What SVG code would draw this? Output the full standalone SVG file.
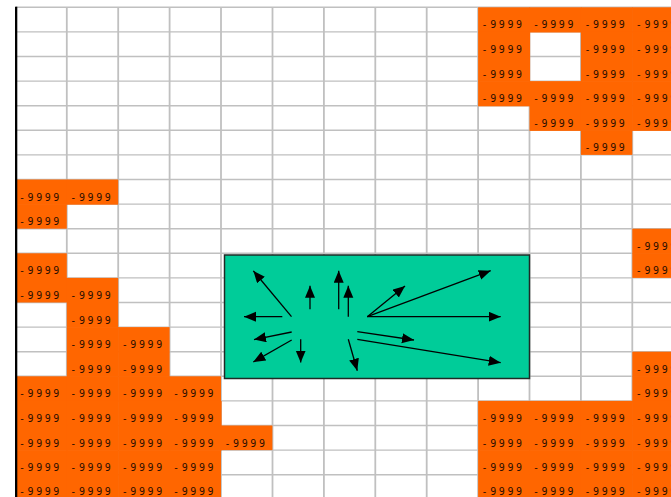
<svg xmlns="http://www.w3.org/2000/svg" width="671" height="497" viewBox="0 0 671 497">
<style>
.g{stroke:#c0c0c0;fill:none}
.v{stroke-width:1.8}
.h{stroke-width:1.4}
.c{fill:#ff6600}
.t{font-family:"DejaVu Sans Mono","Liberation Mono",monospace;font-size:10px;letter-spacing:2.6px;fill:#2a0e00}
.a{stroke:#000;stroke-width:1.3;fill:none;marker-end:url(#ah)}
</style>
<defs>
<marker id="ah" markerUnits="userSpaceOnUse" markerWidth="13" markerHeight="11" refX="12" refY="5" orient="auto" viewBox="0 0 13 11">
<path d="M0,0 L12,5 L0,10 z" fill="#000"/>
</marker>
</defs>
<rect width="671" height="497" fill="#fff"/>
<g id="grid">
<path class="g h" d="M16,7.3H671M16,31.9H671M16,56.5H671M16,81.1H671M16,105.7H671M16,130.3H671M16,154.9H671M16,179.5H671M16,204.1H671M16,228.7H671M16,253.3H671M16,277.9H671M16,302.5H671M16,327.1H671M16,351.7H671M16,376.3H671M16,400.9H671M16,425.5H671M16,450.1H671M16,474.7H671"/>
<path class="g v" d="M66.8,7V497M118.2,7V497M169.6,7V497M221,7V497M272.5,7V497M323.9,7V497M375.3,7V497M426.7,7V497M478.1,7V497M529.5,7V497M580.9,7V497M632.3,7V497"/>
</g>
<g id="cells">
<g id="r0c9"><rect class="c" x="478.1" y="7.3" width="52" height="25.2"/><text class="t" x="481.6" y="28.3">-9999</text></g>
<g id="r0c10"><rect class="c" x="529.5" y="7.3" width="52" height="25.2"/><text class="t" x="533" y="28.3">-9999</text></g>
<g id="r0c11"><rect class="c" x="580.9" y="7.3" width="52" height="25.2"/><text class="t" x="584.4" y="28.3">-9999</text></g>
<g id="r0c12"><rect class="c" x="632.3" y="7.3" width="52" height="25.2"/><text class="t" x="635.8" y="28.3">-9999</text></g>
<g id="r1c9"><rect class="c" x="478.1" y="31.9" width="52" height="25.2"/><text class="t" x="481.6" y="52.9">-9999</text></g>
<g id="r1c11"><rect class="c" x="580.9" y="31.9" width="52" height="25.2"/><text class="t" x="584.4" y="52.9">-9999</text></g>
<g id="r1c12"><rect class="c" x="632.3" y="31.9" width="52" height="25.2"/><text class="t" x="635.8" y="52.9">-9999</text></g>
<g id="r2c9"><rect class="c" x="478.1" y="56.5" width="52" height="25.2"/><text class="t" x="481.6" y="77.5">-9999</text></g>
<g id="r2c11"><rect class="c" x="580.9" y="56.5" width="52" height="25.2"/><text class="t" x="584.4" y="77.5">-9999</text></g>
<g id="r2c12"><rect class="c" x="632.3" y="56.5" width="52" height="25.2"/><text class="t" x="635.8" y="77.5">-9999</text></g>
<g id="r3c9"><rect class="c" x="478.1" y="81.1" width="52" height="25.2"/><text class="t" x="481.6" y="102.1">-9999</text></g>
<g id="r3c10"><rect class="c" x="529.5" y="81.1" width="52" height="25.2"/><text class="t" x="533" y="102.1">-9999</text></g>
<g id="r3c11"><rect class="c" x="580.9" y="81.1" width="52" height="25.2"/><text class="t" x="584.4" y="102.1">-9999</text></g>
<g id="r3c12"><rect class="c" x="632.3" y="81.1" width="52" height="25.2"/><text class="t" x="635.8" y="102.1">-9999</text></g>
<g id="r4c10"><rect class="c" x="529.5" y="105.7" width="52" height="25.2"/><text class="t" x="533" y="126.7">-9999</text></g>
<g id="r4c11"><rect class="c" x="580.9" y="105.7" width="52" height="25.2"/><text class="t" x="584.4" y="126.7">-9999</text></g>
<g id="r4c12"><rect class="c" x="632.3" y="105.7" width="52" height="25.2"/><text class="t" x="635.8" y="126.7">-9999</text></g>
<g id="r5c11"><rect class="c" x="580.9" y="130.3" width="51.4" height="24.6"/><text class="t" x="584.4" y="151.3">-9999</text></g>
<g id="r7c0"><rect class="c" x="15.4" y="179.5" width="52" height="25.2"/><text class="t" x="18.9" y="200.5">-9999</text></g>
<g id="r7c1"><rect class="c" x="66.8" y="179.5" width="51.4" height="25.2"/><text class="t" x="70.3" y="200.5">-9999</text></g>
<g id="r8c0"><rect class="c" x="15.4" y="204.1" width="51.4" height="24.6"/><text class="t" x="18.9" y="225.1">-9999</text></g>
<g id="r9c12"><rect class="c" x="632.3" y="228.7" width="52" height="25.2"/><text class="t" x="635.8" y="249.7">-9999</text></g>
<g id="r10c0"><rect class="c" x="15.4" y="253.3" width="51.4" height="25.2"/><text class="t" x="18.9" y="274.3">-9999</text></g>
<g id="r10c12"><rect class="c" x="632.3" y="253.3" width="52" height="24.6"/><text class="t" x="635.8" y="274.3">-9999</text></g>
<g id="r11c0"><rect class="c" x="15.4" y="277.9" width="52" height="24.6"/><text class="t" x="18.9" y="298.9">-9999</text></g>
<g id="r11c1"><rect class="c" x="66.8" y="277.9" width="51.4" height="25.2"/><text class="t" x="70.3" y="298.9">-9999</text></g>
<g id="r12c1"><rect class="c" x="66.8" y="302.5" width="51.4" height="25.2"/><text class="t" x="70.3" y="323.5">-9999</text></g>
<g id="r13c1"><rect class="c" x="66.8" y="327.1" width="52" height="25.2"/><text class="t" x="70.3" y="348.1">-9999</text></g>
<g id="r13c2"><rect class="c" x="118.2" y="327.1" width="51.4" height="25.2"/><text class="t" x="121.7" y="348.1">-9999</text></g>
<g id="r14c1"><rect class="c" x="66.8" y="351.7" width="52" height="25.2"/><text class="t" x="70.3" y="372.7">-9999</text></g>
<g id="r14c2"><rect class="c" x="118.2" y="351.7" width="51.4" height="25.2"/><text class="t" x="121.7" y="372.7">-9999</text></g>
<g id="r14c12"><rect class="c" x="632.3" y="351.7" width="52" height="25.2"/><text class="t" x="635.8" y="372.7">-9999</text></g>
<g id="r15c0"><rect class="c" x="15.4" y="376.3" width="52" height="25.2"/><text class="t" x="18.9" y="397.3">-9999</text></g>
<g id="r15c1"><rect class="c" x="66.8" y="376.3" width="52" height="25.2"/><text class="t" x="70.3" y="397.3">-9999</text></g>
<g id="r15c2"><rect class="c" x="118.2" y="376.3" width="52" height="25.2"/><text class="t" x="121.7" y="397.3">-9999</text></g>
<g id="r15c3"><rect class="c" x="169.6" y="376.3" width="51.4" height="25.2"/><text class="t" x="173.1" y="397.3">-9999</text></g>
<g id="r15c12"><rect class="c" x="632.3" y="376.3" width="52" height="25.2"/><text class="t" x="635.8" y="397.3">-9999</text></g>
<g id="r16c0"><rect class="c" x="15.4" y="400.9" width="52" height="25.2"/><text class="t" x="18.9" y="421.9">-9999</text></g>
<g id="r16c1"><rect class="c" x="66.8" y="400.9" width="52" height="25.2"/><text class="t" x="70.3" y="421.9">-9999</text></g>
<g id="r16c2"><rect class="c" x="118.2" y="400.9" width="52" height="25.2"/><text class="t" x="121.7" y="421.9">-9999</text></g>
<g id="r16c3"><rect class="c" x="169.6" y="400.9" width="52" height="25.2"/><text class="t" x="173.1" y="421.9">-9999</text></g>
<g id="r16c9"><rect class="c" x="478.1" y="400.9" width="52" height="25.2"/><text class="t" x="481.6" y="421.9">-9999</text></g>
<g id="r16c10"><rect class="c" x="529.5" y="400.9" width="52" height="25.2"/><text class="t" x="533" y="421.9">-9999</text></g>
<g id="r16c11"><rect class="c" x="580.9" y="400.9" width="52" height="25.2"/><text class="t" x="584.4" y="421.9">-9999</text></g>
<g id="r16c12"><rect class="c" x="632.3" y="400.9" width="52" height="25.2"/><text class="t" x="635.8" y="421.9">-9999</text></g>
<g id="r17c0"><rect class="c" x="15.4" y="425.5" width="52" height="25.2"/><text class="t" x="18.9" y="446.5">-9999</text></g>
<g id="r17c1"><rect class="c" x="66.8" y="425.5" width="52" height="25.2"/><text class="t" x="70.3" y="446.5">-9999</text></g>
<g id="r17c2"><rect class="c" x="118.2" y="425.5" width="52" height="25.2"/><text class="t" x="121.7" y="446.5">-9999</text></g>
<g id="r17c3"><rect class="c" x="169.6" y="425.5" width="52" height="25.2"/><text class="t" x="173.1" y="446.5">-9999</text></g>
<g id="r17c4"><rect class="c" x="221" y="425.5" width="51.4" height="24.6"/><text class="t" x="224.5" y="446.5">-9999</text></g>
<g id="r17c9"><rect class="c" x="478.1" y="425.5" width="52" height="25.2"/><text class="t" x="481.6" y="446.5">-9999</text></g>
<g id="r17c10"><rect class="c" x="529.5" y="425.5" width="52" height="25.2"/><text class="t" x="533" y="446.5">-9999</text></g>
<g id="r17c11"><rect class="c" x="580.9" y="425.5" width="52" height="25.2"/><text class="t" x="584.4" y="446.5">-9999</text></g>
<g id="r17c12"><rect class="c" x="632.3" y="425.5" width="52" height="25.2"/><text class="t" x="635.8" y="446.5">-9999</text></g>
<g id="r18c0"><rect class="c" x="15.4" y="450.1" width="52" height="25.2"/><text class="t" x="18.9" y="471.1">-9999</text></g>
<g id="r18c1"><rect class="c" x="66.8" y="450.1" width="52" height="25.2"/><text class="t" x="70.3" y="471.1">-9999</text></g>
<g id="r18c2"><rect class="c" x="118.2" y="450.1" width="52" height="25.2"/><text class="t" x="121.7" y="471.1">-9999</text></g>
<g id="r18c3"><rect class="c" x="169.6" y="450.1" width="51.4" height="25.2"/><text class="t" x="173.1" y="471.1">-9999</text></g>
<g id="r18c9"><rect class="c" x="478.1" y="450.1" width="52" height="25.2"/><text class="t" x="481.6" y="471.1">-9999</text></g>
<g id="r18c10"><rect class="c" x="529.5" y="450.1" width="52" height="25.2"/><text class="t" x="533" y="471.1">-9999</text></g>
<g id="r18c11"><rect class="c" x="580.9" y="450.1" width="52" height="25.2"/><text class="t" x="584.4" y="471.1">-9999</text></g>
<g id="r18c12"><rect class="c" x="632.3" y="450.1" width="52" height="25.2"/><text class="t" x="635.8" y="471.1">-9999</text></g>
<g id="r19c0"><rect class="c" x="15.4" y="474.7" width="52" height="24.6"/><text class="t" x="18.9" y="495.2">-9999</text></g>
<g id="r19c1"><rect class="c" x="66.8" y="474.7" width="52" height="24.6"/><text class="t" x="70.3" y="495.2">-9999</text></g>
<g id="r19c2"><rect class="c" x="118.2" y="474.7" width="52" height="24.6"/><text class="t" x="121.7" y="495.2">-9999</text></g>
<g id="r19c3"><rect class="c" x="169.6" y="474.7" width="51.4" height="24.6"/><text class="t" x="173.1" y="495.2">-9999</text></g>
<g id="r19c9"><rect class="c" x="478.1" y="474.7" width="52" height="24.6"/><text class="t" x="481.6" y="495.2">-9999</text></g>
<g id="r19c10"><rect class="c" x="529.5" y="474.7" width="52" height="24.6"/><text class="t" x="533" y="495.2">-9999</text></g>
<g id="r19c11"><rect class="c" x="580.9" y="474.7" width="52" height="24.6"/><text class="t" x="584.4" y="495.2">-9999</text></g>
<g id="r19c12"><rect class="c" x="632.3" y="474.7" width="52" height="24.6"/><text class="t" x="635.8" y="495.2">-9999</text></g>
</g>
<rect id="axis" x="15" y="6.7" width="2.3" height="491" fill="#000"/>
<g id="box">
<rect x="224.5" y="255" width="305" height="123.5" fill="#00cc99" stroke="#1e2a26" stroke-width="1.5"/>
</g>
<g id="connectors">
<line class="a" x1="291.5" y1="316.7" x2="253.3" y2="270.8"/>
<line class="a" x1="282.3" y1="316.7" x2="244" y2="316.7"/>
<line class="a" x1="291.7" y1="332" x2="254" y2="339.6"/>
<line class="a" x1="291.7" y1="340" x2="253.3" y2="362"/>
<line class="a" x1="300.7" y1="339.3" x2="300.7" y2="362.6"/>
<line class="a" x1="310" y1="309.3" x2="310" y2="285.8"/>
<line class="a" x1="338.7" y1="309.3" x2="338.7" y2="270.7"/>
<line class="a" x1="348.3" y1="316.7" x2="348.3" y2="285.7"/>
<line class="a" x1="348.3" y1="339.3" x2="357.3" y2="370.7"/>
<line class="a" x1="367.3" y1="316.7" x2="405" y2="286"/>
<line class="a" x1="367.3" y1="316.7" x2="490.7" y2="270.7"/>
<line class="a" x1="367.3" y1="316.7" x2="500.7" y2="316.7"/>
<line class="a" x1="357.3" y1="331.7" x2="414" y2="340"/>
<line class="a" x1="357.3" y1="339.3" x2="500.7" y2="362.7"/>
</g>
</svg>
